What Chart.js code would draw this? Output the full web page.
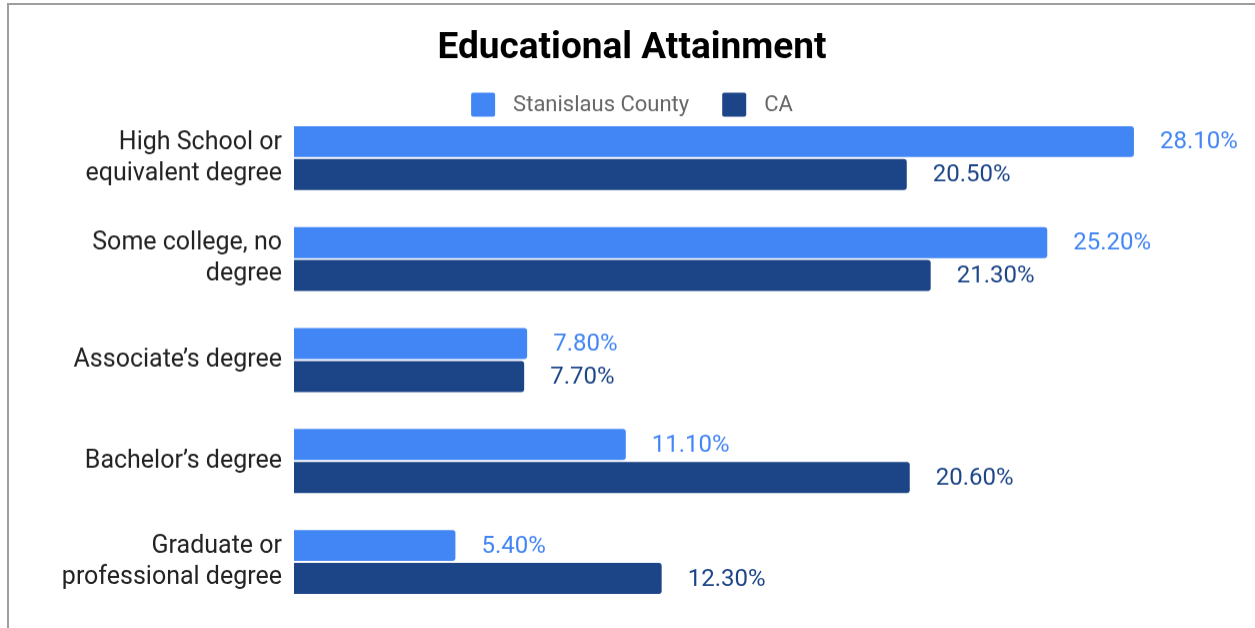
<!DOCTYPE html>
<html>
<head>
<meta charset="utf-8">
<script src="https://cdn.jsdelivr.net/npm/chart.js@4.4.1/dist/chart.umd.min.js"></script>
<style>
  html, body { margin: 0; padding: 0; background: #fff; overflow: hidden; }
  #frame {
    position: absolute; left: 7px; top: 3px; width: 1260px; height: 680px;
    border-left: 2px solid #9e9e9e; border-top: 2px solid #9e9e9e;
  }
  #wrap { position: absolute; left: 9px; top: 5px; width: 1246px; height: 641.5px; }
</style>
</head>
<body>
<div id="frame"></div>
<div id="wrap"><canvas id="chart"></canvas></div>
<script>
const categories = [
  ["High School or", "equivalent degree"],
  ["Some college, no", "degree"],
  "Associate\u2019s degree",
  "Bachelor\u2019s degree",
  ["Graduate or", "professional degree"]
];
const seriesNames = ["Stanislaus County", "CA"];
const stanislaus = [28.1, 25.2, 7.8, 11.1, 5.4];
const california = [20.5, 21.3, 7.7, 20.6, 12.3];
const colors = ["#4285f4", "#1c4587"];

// value labels at the end of each bar
const valueLabels = {
  id: "valueLabels",
  afterDatasetsDraw(chart) {
    const ctx = chart.ctx;
    ctx.save();
    ctx.font = "24px Roboto";
    ctx.textAlign = "left";
    ctx.textBaseline = "middle";
    chart.data.datasets.forEach((ds, i) => {
      const meta = chart.getDatasetMeta(i);
      ctx.fillStyle = ds.backgroundColor;
      meta.data.forEach((bar, j) => {
        ctx.fillText(ds.data[j].toFixed(2) + "%", bar.x + 26, bar.y + 1);
      });
    });
    ctx.restore();
  }
};

// legend drawn by hand so the gaps match
const simpleLegend = {
  id: "simpleLegend",
  afterDraw(chart) {
    const ctx = chart.ctx;
    const box = 24, gap = 18, spacing = 33, cy = 99.5;
    ctx.save();
    ctx.font = "22px Roboto";
    ctx.textBaseline = "middle";
    const items = chart.data.datasets.map(ds => ({
      text: ds.label, color: ds.backgroundColor, w: ctx.measureText(ds.label).width
    }));
    let total = items.reduce((s, it) => s + box + gap + it.w, 0) + spacing * (items.length - 1);
    let x = (chart.width - total) / 2;
    items.forEach(it => {
      ctx.fillStyle = it.color;
      ctx.beginPath();
      ctx.roundRect(x, cy - box / 2, box, box, 2);
      ctx.fill();
      ctx.fillStyle = "#666";
      ctx.fillText(it.text, x + box + gap, cy + 1);
      x += box + gap + it.w + spacing;
    });
    ctx.restore();
  }
};

new Chart(document.getElementById("chart"), {
  type: "bar",
  data: {
    labels: categories,
    datasets: [
      { label: seriesNames[0], data: stanislaus, backgroundColor: colors[0] },
      { label: seriesNames[1], data: california, backgroundColor: colors[1] }
    ]
  },
  options: {
    indexAxis: "y",
    responsive: true,
    maintainAspectRatio: false,
    animation: false,
    categoryPercentage: 0.653,
    barPercentage: 0.94,
    borderRadius: { topRight: 3, bottomRight: 3 },
    borderSkipped: "start",
    layout: { padding: { top: 0, right: 0, bottom: 0, left: 0 } },
    plugins: {
      title: {
        display: true,
        text: "Educational Attainment",
        color: "#000",
        font: { family: "Roboto", size: 37, weight: "bold" },
        padding: { top: 21.8, bottom: 36.2 }
      },
      legend: { display: false },
      tooltip: { enabled: false }
    },
    scales: {
      x: {
        min: 0,
        max: 32.15,
        display: false,
        grid: { display: false }
      },
      y: {
        grid: { display: false },
        border: { display: false },
        ticks: {
          color: "#222",
          padding: 4,
          font: { family: "Roboto", size: 25, lineHeight: 1.24 }
        },
        afterFit(scale) { scale.width = 285; }
      }
    }
  },
  plugins: [valueLabels, simpleLegend]
});
</script>
</body>
</html>
